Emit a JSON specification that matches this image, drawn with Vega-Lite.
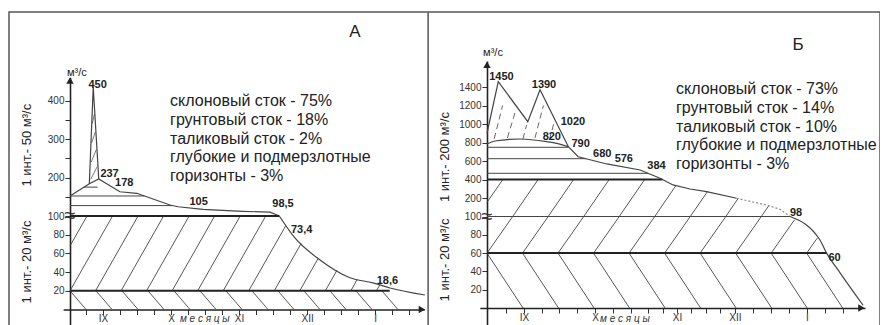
{
  "$schema": "https://vega.github.io/schema/vega-lite/v6.json",
  "width": 871,
  "height": 330,
  "autosize": "none",
  "padding": {"left": 9, "top": 12, "right": 0, "bottom": 0},
  "background": "white",
  "config": {
    "view": {"stroke": "#555", "strokeWidth": 1.5},
    "font": "Liberation Sans",
    "text": {"font": "Liberation Sans"},
    "axis": {"grid": false, "domainColor": "#222", "domainWidth": 1.6, "tickColor": "#333", "tickWidth": 1, "tickSize": 5, "labelFont": "Liberation Sans", "labelFontSize": 10, "labelColor": "#333", "labelPadding": 1, "labelOverlap": false, "labelFlush": false}
  },
  "datasets": {
    "aOut": [{"d":0,"v":152},{"d":8.4,"v":184},{"d":12.5,"v":196},{"d":21.7,"v":163},{"d":29,"v":159},{"d":43.5,"v":128.6},{"d":47,"v":124},{"d":57.8,"v":117},{"d":75,"v":112},{"d":87,"v":110},{"d":91,"v":100}],
    "aSpike": [{"d":8.4,"v":184},{"d":10.1,"v":435},{"d":12.5,"v":196}],
    "aLevels": [{"d":0,"v":152,"d2":32.3,"v2":152},{"d":0,"v":127,"d2":44.7,"v2":127},{"d":6,"v":175,"d2":12,"v2":175}],
    "aSpikeHatch": [{"d":9.0,"v":195,"d2":11.8,"v2":228},{"d":9.2,"v":240,"d2":11.4,"v2":272},{"d":9.4,"v":290,"d2":11.0,"v2":318},{"d":9.7,"v":340,"d2":10.6,"v2":365}],
    "aLabUp": [{"t":"450","d":12,"v":440},{"t":"237","d":17.2,"v":209},{"t":"178","d":23.6,"v":186},{"t":"105","d":55.9,"v":137},{"t":"98,5","d":92.6,"v":131}],
    "aLowCurve": [{"d":91,"v":100},{"d":97.8,"v":76.5},{"d":108.7,"v":53},{"d":121.7,"v":34},{"d":131.7,"v":28.5},{"d":139.1,"v":23},{"d":154.3,"v":15.5}],
    "aLowThick": [{"d":0,"v":100,"d2":91,"v2":100},{"d":0,"v":20,"d2":139,"v2":20}],
    "aHatchF": [{"d":0,"v":68,"d2":7.4,"v2":100},{"d":0,"v":20,"d2":18.5,"v2":100},{"d":11.1,"v":20,"d2":29.6,"v2":100},{"d":22.2,"v":20,"d2":40.7,"v2":100},{"d":33.3,"v":20,"d2":51.8,"v2":100},{"d":44.4,"v":20,"d2":62.9,"v2":100},{"d":55.5,"v":20,"d2":74,"v2":100},{"d":66.6,"v":20,"d2":85.1,"v2":100},{"d":77.7,"v":20,"d2":93.75,"v2":89.4},{"d":88.8,"v":20,"d2":100.5,"v2":70.7},{"d":99.9,"v":20,"d2":107.9,"v2":54.7},{"d":111,"v":20,"d2":116.1,"v2":42.1},{"d":122.1,"v":20,"d2":124.9,"v2":32.3},{"d":133.2,"v":20,"d2":134.7,"v2":26.3}],
    "aHatchB": [{"d":0,"v":20,"d2":7,"v2":0},{"d":11.3,"v":20,"d2":18.3,"v2":0},{"d":22.6,"v":20,"d2":29.6,"v2":0},{"d":33.9,"v":20,"d2":40.9,"v2":0},{"d":45.2,"v":20,"d2":52.2,"v2":0},{"d":56.5,"v":20,"d2":63.5,"v2":0},{"d":67.8,"v":20,"d2":74.8,"v2":0},{"d":79.1,"v":20,"d2":86.1,"v2":0},{"d":90.4,"v":20,"d2":97.4,"v2":0},{"d":101.7,"v":20,"d2":108.7,"v2":0},{"d":113,"v":20,"d2":120,"v2":0},{"d":124.3,"v":20,"d2":131.3,"v2":0},{"d":135.6,"v":20,"d2":142.6,"v2":0}],
    "aLabLow": [{"t":"73,4","d":100.7,"v":85},{"t":"18,6","d":138,"v":30.5}],
    "bOut": [{"d":0,"v":900},{"d":4.7,"v":1457},{"d":17,"v":1025},{"d":22.1,"v":1370},{"d":33.9,"v":755},{"d":38,"v":646},{"d":49.9,"v":568},{"d":63.8,"v":503},{"d":72.1,"v":413},{"d":77.5,"v":341},{"d":84.6,"v":297},{"d":91.5,"v":268},{"d":104,"v":197}],
    "bDot": [{"d":104,"v":197},{"d":116.5,"v":124},{"d":122.1,"v":78},{"d":126.3,"v":0}],
    "bC820": [{"d":0,"v":784},{"d":3.3,"v":816},{"d":13.8,"v":838},{"d":24.9,"v":809},{"d":29,"v":791},{"d":33.9,"v":755}],
    "bLevels": [{"d":0,"v":748,"d2":33.9,"v2":748},{"d":0,"v":625,"d2":41.2,"v2":625},{"d":0,"v":467,"d2":67.1,"v2":467}],
    "bThickUp": [{"d":0,"v":400,"d2":73.1,"v2":400}],
    "bHatchUp": [{"d":0,"v":153,"d2":6.6,"v2":400},{"d":10.7,"v":0,"d2":21.3,"v2":400},{"d":25.5,"v":0,"d2":36.1,"v2":400},{"d":40.3,"v":0,"d2":50.9,"v2":400},{"d":55.1,"v":0,"d2":65.7,"v2":400},{"d":69.9,"v":0,"d2":78.7,"v2":334},{"d":84.7,"v":0,"d2":91.8,"v2":267},{"d":99.5,"v":0,"d2":104.6,"v2":194},{"d":114.3,"v":0,"d2":117.4,"v2":116}],
    "bDash": [{"d":3,"v":840,"d2":6.5,"v2":1200},{"d":8.5,"v":850,"d2":12,"v2":1150},{"d":15,"v":840,"d2":16.5,"v2":990},{"d":20,"v":850,"d2":23.5,"v2":1200},{"d":26,"v":830,"d2":28,"v2":1020}],
    "bLabUp": [{"t":"1450","d":6,"v":1506},{"t":"1390","d":23.75,"v":1422},{"t":"1020","d":35.8,"v":1025},{"t":"820","d":27,"v":863},{"t":"790","d":39,"v":784},{"t":"680","d":48,"v":676},{"t":"576","d":57,"v":618},{"t":"384","d":70.6,"v":549}],
    "bLowCurve": [{"d":126.3,"v":100},{"d":138.8,"v":74},{"d":141.5,"v":60},{"d":147.1,"v":38.5},{"d":156.7,"v":3}],
    "bLowThin": [{"d":0,"v":100,"d2":126.3,"v2":100}],
    "bLowThick": [{"d":0,"v":60,"d2":141.5,"v2":60}],
    "bHatchLowF": [{"d":0,"v":60,"d2":10.7,"v2":100},{"d":14.8,"v":60,"d2":25.5,"v2":100},{"d":29.6,"v":60,"d2":40.3,"v2":100},{"d":44.4,"v":60,"d2":55.1,"v2":100},{"d":59.2,"v":60,"d2":69.9,"v2":100},{"d":74,"v":60,"d2":84.7,"v2":100},{"d":88.8,"v":60,"d2":99.5,"v2":100},{"d":103.6,"v":60,"d2":114.3,"v2":100},{"d":118.4,"v":60,"d2":128.1,"v2":96.3},{"d":133.2,"v":60,"d2":137.6,"v2":76.4}],
    "bHatchLowB": [{"d":0,"v":60,"d2":15,"v2":0},{"d":14.8,"v":60,"d2":29.8,"v2":0},{"d":29.6,"v":60,"d2":44.6,"v2":0},{"d":44.4,"v":60,"d2":59.4,"v2":0},{"d":59.2,"v":60,"d2":74.2,"v2":0},{"d":74,"v":60,"d2":89,"v2":0},{"d":88.8,"v":60,"d2":103.8,"v2":0},{"d":103.6,"v":60,"d2":118.6,"v2":0},{"d":118.4,"v":60,"d2":133.4,"v2":0},{"d":133.2,"v":60,"d2":148.2,"v2":0}],
    "bLabLow": [{"t":"98","d":128.75,"v":103.5},{"t":"60","d":144.8,"v":54.3}]
  },
  "layer": [
    {
      "encoding": {
        "x": {"field": "d", "type": "quantitative", "scale": {"domain": [-3, 154], "range": [54.1, 415.2], "nice": false, "zero": false}, "axis": null},
        "y": {"field": "v", "type": "quantitative", "scale": {"domain": [100, 460], "range": [204, 65.4], "nice": false, "zero": false}, "axis": {"orient": "left", "offset": -61, "title": null, "values": [150, 200, 250, 300, 350, 400], "format": "d", "labelExpr": "datum.value % 100 == 0 ? datum.label : ''"}}
      },
      "layer": [
        {"data": {"name": "aLevels"}, "mark": {"type": "rule", "color": "#444", "strokeWidth": 1}, "encoding": {"x2": {"field": "d2"}, "y2": {"field": "v2"}}},
        {"data": {"name": "aSpikeHatch"}, "mark": {"type": "rule", "color": "#555", "strokeWidth": 0.8}, "encoding": {"x2": {"field": "d2"}, "y2": {"field": "v2"}}},
        {"data": {"name": "aOut"}, "mark": {"type": "line", "color": "#444", "strokeWidth": 1.2}},
        {"data": {"name": "aSpike"}, "mark": {"type": "line", "color": "#444", "strokeWidth": 1.2}},
        {"data": {"name": "aLabUp"}, "mark": {"type": "text", "fontWeight": "bold", "fontSize": 11, "color": "#222", "baseline": "middle"}, "encoding": {"text": {"field": "t"}}},
        {"data": {"values": [{"t": "склоновый сток - 75%\nгрунтовый сток - 18%\nталиковый сток - 2%\nглубокие и подмерзлотные\nгоризонты - 3%", "d": 43.5, "v": 419}]}, "mark": {"type": "text", "align": "left", "baseline": "top", "fontSize": 16, "lineHeight": 18.75, "lineBreak": "\n", "color": "#222"}, "encoding": {"text": {"field": "t"}}},
        {"data": {"values": [{"t": "А", "d": 123.9, "v": 578}]}, "mark": {"type": "text", "fontSize": 17, "color": "#222", "baseline": "middle"}, "encoding": {"text": {"field": "t"}}},
        {"data": {"values": [{"t": "м³/с", "d": 3, "v": 471}]}, "mark": {"type": "text", "fontSize": 11, "color": "#222", "baseline": "middle"}, "encoding": {"text": {"field": "t"}}},
        {"data": {"values": [{"t": "1 инт.- 50 м³/с", "d": -18.7, "v": 284}]}, "mark": {"type": "text", "fontSize": 13, "color": "#222", "baseline": "middle", "angle": 270}, "encoding": {"text": {"field": "t"}}},
        {"data": {"values": [{"d": 0, "v": 452}]}, "mark": {"type": "point", "shape": "triangle-up", "filled": true, "size": 55, "color": "#222", "opacity": 1}}
      ]
    },
    {
      "encoding": {
        "x": {"field": "d", "type": "quantitative", "scale": {"domain": [-3, 154], "range": [54.1, 415.2], "nice": false, "zero": false}, "axis": {"orient": "bottom", "offset": -32.5, "title": null, "labelPadding": -1, "values": [6.9,14.3,21.7,29.1,36.5,43.9,51.3,58.7,66.1,73.5,80.9,88.3,95.7,103.1,110.5,117.9,125.3,132.7,140.1,147.5], "labelExpr": "abs(datum.value-14.3)<0.3?'IX':abs(datum.value-43.9)<0.3?'X':abs(datum.value-73.5)<0.3?'XI':abs(datum.value-103.1)<0.3?'XII':abs(datum.value-132.7)<0.3?'I':''"}},
        "y": {"field": "v", "type": "quantitative", "scale": {"domain": [-17, 100], "range": [313.4, 204], "nice": false, "zero": false}, "axis": {"orient": "left", "offset": -61, "title": null, "values": [20, 40, 60, 80, 100], "format": "d"}}
      },
      "layer": [
        {"data": {"name": "aHatchF"}, "mark": {"type": "rule", "color": "#444", "strokeWidth": 0.9}, "encoding": {"x2": {"field": "d2"}, "y2": {"field": "v2"}}},
        {"data": {"name": "aHatchB"}, "mark": {"type": "rule", "color": "#444", "strokeWidth": 0.9}, "encoding": {"x2": {"field": "d2"}, "y2": {"field": "v2"}}},
        {"data": {"name": "aLowThick"}, "mark": {"type": "rule", "color": "#222", "strokeWidth": 2}, "encoding": {"x2": {"field": "d2"}, "y2": {"field": "v2"}}},
        {"data": {"name": "aLowCurve"}, "mark": {"type": "line", "color": "#444", "strokeWidth": 1.2, "interpolate": "monotone"}},
        {"data": {"name": "aLabLow"}, "mark": {"type": "text", "fontWeight": "bold", "fontSize": 11, "color": "#222", "baseline": "middle"}, "encoding": {"text": {"field": "t"}}},
        {"data": {"values": [{"t": "1 инт.- 20 м³/с", "d": -18.7, "v": 50.8}]}, "mark": {"type": "text", "fontSize": 13, "color": "#222", "baseline": "middle", "angle": 270}, "encoding": {"text": {"field": "t"}}},
        {"data": {"values": [{"t": "≈", "d": 0, "v": 100}]}, "mark": {"type": "text", "fontSize": 20, "color": "#333", "baseline": "middle"}, "encoding": {"text": {"field": "t"}}},
        {"data": {"values": [{"t": "м е с я ц ы", "d": 47.8, "v": -10.5}]}, "mark": {"type": "text", "fontSize": 10, "fontStyle": "italic", "color": "#333", "align": "left", "baseline": "middle"}, "encoding": {"text": {"field": "t"}}},
        {"data": {"values": [{"d": 153, "v": 0}]}, "mark": {"type": "point", "shape": "triangle-right", "filled": true, "size": 55, "color": "#222", "opacity": 1}},
        {"data": {"values": [{"d": 155.7, "v": -17, "d2": 155.7, "v2": 318}]}, "mark": {"type": "rule", "color": "#555", "strokeWidth": 1.5}, "encoding": {"x2": {"field": "d2"}, "y2": {"field": "v2"}}}
      ]
    },
    {
      "encoding": {
        "x": {"field": "d", "type": "quantitative", "scale": {"domain": [-3, 157.5], "range": [470.8, 856], "nice": false, "zero": false}, "axis": null},
        "y": {"field": "v", "type": "quantitative", "scale": {"domain": [0, 1680], "range": [204.5, 49.1], "nice": false, "zero": false}, "axis": {"orient": "left", "offset": -478, "title": null, "values": [200, 400, 600, 800, 1000, 1200, 1400], "format": "d"}}
      },
      "layer": [
        {"data": {"name": "bHatchUp"}, "mark": {"type": "rule", "color": "#444", "strokeWidth": 0.9}, "encoding": {"x2": {"field": "d2"}, "y2": {"field": "v2"}}},
        {"data": {"name": "bDash"}, "mark": {"type": "rule", "color": "#555", "strokeWidth": 0.9, "strokeDash": [6, 4]}, "encoding": {"x2": {"field": "d2"}, "y2": {"field": "v2"}}},
        {"data": {"name": "bLevels"}, "mark": {"type": "rule", "color": "#444", "strokeWidth": 1}, "encoding": {"x2": {"field": "d2"}, "y2": {"field": "v2"}}},
        {"data": {"name": "bThickUp"}, "mark": {"type": "rule", "color": "#222", "strokeWidth": 2}, "encoding": {"x2": {"field": "d2"}, "y2": {"field": "v2"}}},
        {"data": {"name": "bOut"}, "mark": {"type": "line", "color": "#444", "strokeWidth": 1.2}},
        {"data": {"name": "bDot"}, "mark": {"type": "line", "color": "#888", "strokeWidth": 1.2, "strokeDash": [2, 2]}},
        {"data": {"name": "bC820"}, "mark": {"type": "line", "color": "#444", "strokeWidth": 1.2, "interpolate": "monotone"}},
        {"data": {"name": "bLabUp"}, "mark": {"type": "text", "fontWeight": "bold", "fontSize": 11, "color": "#222", "baseline": "middle"}, "encoding": {"text": {"field": "t"}}},
        {"data": {"values": [{"t": "склоновый сток - 73%\nгрунтовый сток - 14%\nталиковый сток - 10%\nглубокие и подмерзлотные\nгоризонты - 3%", "d": 78.75, "v": 1464}]}, "mark": {"type": "text", "align": "left", "baseline": "top", "fontSize": 16, "lineHeight": 18.75, "lineBreak": "\n", "color": "#222"}, "encoding": {"text": {"field": "t"}}},
        {"data": {"values": [{"t": "Б", "d": 129.6, "v": 1854}]}, "mark": {"type": "text", "fontSize": 17, "color": "#222", "baseline": "middle"}, "encoding": {"text": {"field": "t"}}},
        {"data": {"values": [{"t": "м³/с", "d": 2.5, "v": 1768}]}, "mark": {"type": "text", "fontSize": 11, "color": "#222", "baseline": "middle"}, "encoding": {"text": {"field": "t"}}},
        {"data": {"values": [{"t": "1 инт.- 200 м³/с", "d": -17.5, "v": 643}]}, "mark": {"type": "text", "fontSize": 13, "color": "#222", "baseline": "middle", "angle": 270}, "encoding": {"text": {"field": "t"}}},
        {"data": {"values": [{"d": 0, "v": 1640}]}, "mark": {"type": "point", "shape": "triangle-up", "filled": true, "size": 55, "color": "#222", "opacity": 1}}
      ]
    },
    {
      "encoding": {
        "x": {"field": "d", "type": "quantitative", "scale": {"domain": [-3, 157.5], "range": [470.8, 856], "nice": false, "zero": false}, "axis": {"orient": "bottom", "offset": -34, "title": null, "labelPadding": -1, "values": [8.0,15.4,22.8,30.2,37.6,45.0,52.4,59.8,67.2,73.2,79.2,85.2,91.2,97.2,103.3,110.8,118.3,125.8,133.3,140.8,148.3], "labelExpr": "abs(datum.value-15.4)<0.3?'IX':abs(datum.value-45)<0.3?'X':abs(datum.value-79.2)<0.3?'XI':abs(datum.value-103.3)<0.3?'XII':abs(datum.value-133.3)<0.3?'I':''"}},
        "y": {"field": "v", "type": "quantitative", "scale": {"domain": [-18, 100], "range": [312.5, 204.5], "nice": false, "zero": false}, "axis": {"orient": "left", "offset": -478, "title": null, "values": [20, 40, 60, 80, 100], "format": "d"}}
      },
      "layer": [
        {"data": {"name": "bHatchLowF"}, "mark": {"type": "rule", "color": "#444", "strokeWidth": 0.9}, "encoding": {"x2": {"field": "d2"}, "y2": {"field": "v2"}}},
        {"data": {"name": "bHatchLowB"}, "mark": {"type": "rule", "color": "#444", "strokeWidth": 0.9}, "encoding": {"x2": {"field": "d2"}, "y2": {"field": "v2"}}},
        {"data": {"name": "bLowThin"}, "mark": {"type": "rule", "color": "#444", "strokeWidth": 1.2}, "encoding": {"x2": {"field": "d2"}, "y2": {"field": "v2"}}},
        {"data": {"name": "bLowThick"}, "mark": {"type": "rule", "color": "#222", "strokeWidth": 2}, "encoding": {"x2": {"field": "d2"}, "y2": {"field": "v2"}}},
        {"data": {"name": "bLowCurve"}, "mark": {"type": "line", "color": "#444", "strokeWidth": 1.2, "interpolate": "monotone"}},
        {"data": {"name": "bLabLow"}, "mark": {"type": "text", "fontWeight": "bold", "fontSize": 11, "color": "#222", "baseline": "middle"}, "encoding": {"text": {"field": "t"}}},
        {"data": {"values": [{"t": "1 инт.- 20 м³/с", "d": -17.5, "v": 52.5}]}, "mark": {"type": "text", "fontSize": 13, "color": "#222", "baseline": "middle", "angle": 270}, "encoding": {"text": {"field": "t"}}},
        {"data": {"values": [{"t": "≈", "d": 0, "v": 100}]}, "mark": {"type": "text", "fontSize": 20, "color": "#333", "baseline": "middle"}, "encoding": {"text": {"field": "t"}}},
        {"data": {"values": [{"t": "м е с я ц ы", "d": 47.1, "v": -12.3}]}, "mark": {"type": "text", "fontSize": 10, "fontStyle": "italic", "color": "#333", "align": "left", "baseline": "middle"}, "encoding": {"text": {"field": "t"}}},
        {"data": {"values": [{"d": 156, "v": 0}]}, "mark": {"type": "point", "shape": "triangle-right", "filled": true, "size": 55, "color": "#222", "opacity": 1}}
      ]
    }
  ],
  "resolve": {"scale": {"x": "independent", "y": "independent"}, "axis": {"x": "independent", "y": "independent"}}
}
